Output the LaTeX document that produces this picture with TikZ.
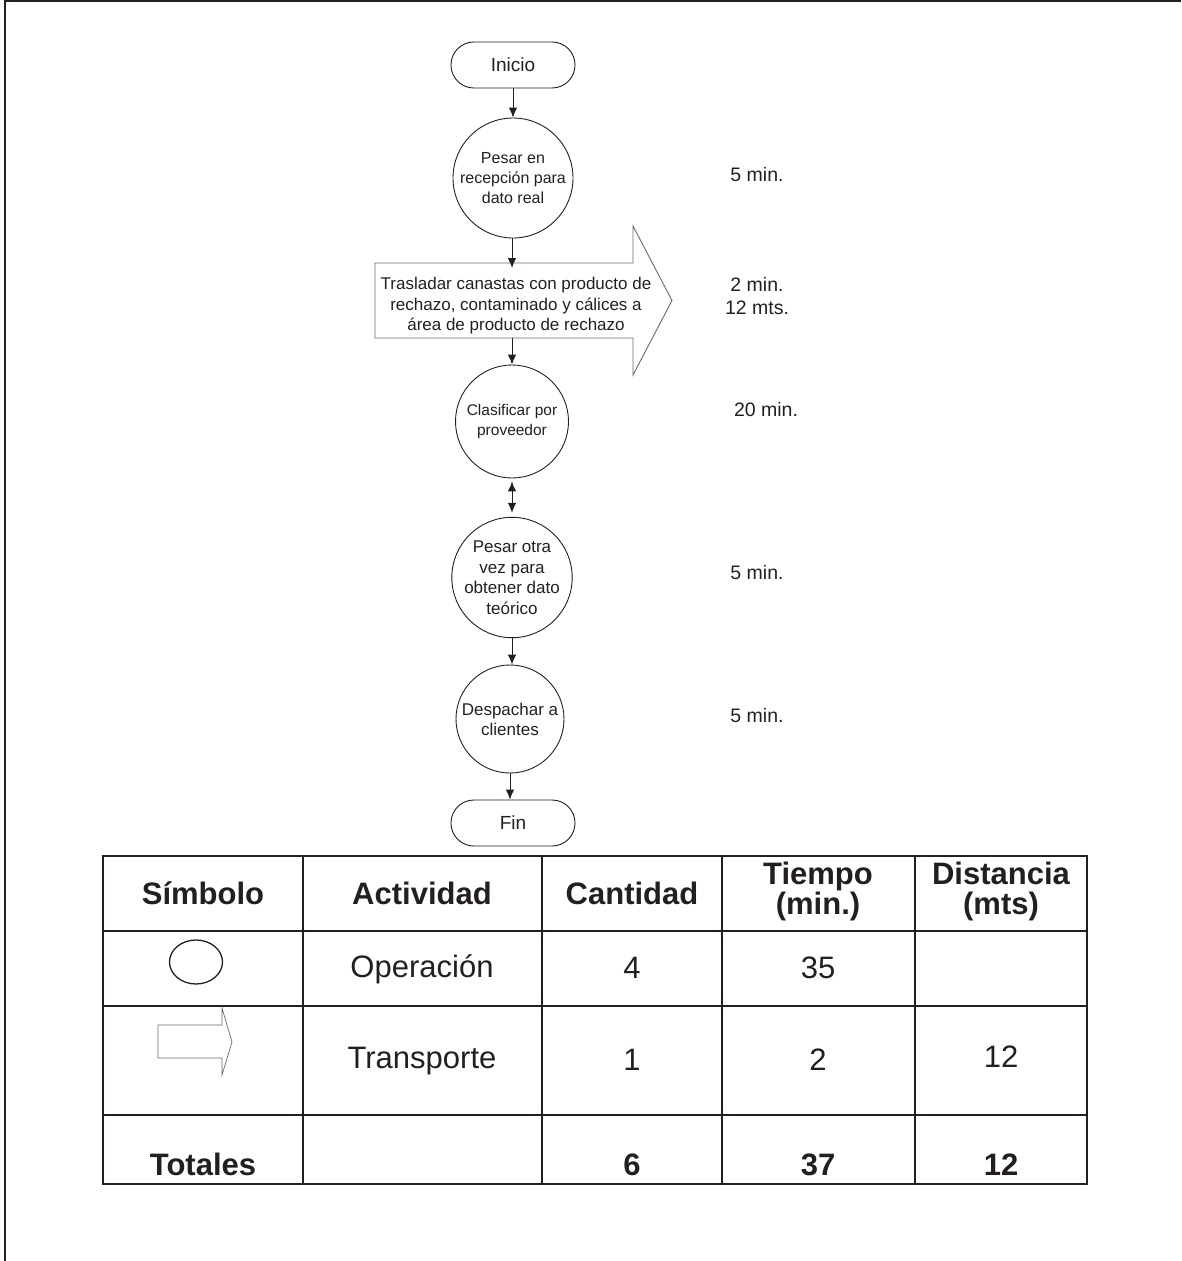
\documentclass[tikz,border=0pt]{standalone}
\usepackage{fontspec}
\setmainfont{Liberation Sans}
\usetikzlibrary{arrows.meta}
\definecolor{ink}{RGB}{35,31,32}
\definecolor{outl}{RGB}{105,105,105}

\begin{document}
\begin{tikzpicture}[x=1pt,y=-1pt,
  every node/.style={text=ink},
  term/.style={draw=ink, line width=0.9pt, rounded corners=22.9pt,
    minimum width=124pt, minimum height=46pt, inner sep=0pt,
    font=\fontsize{19}{22}\selectfont},
  op/.style={circle, draw=ink, line width=0.9pt, inner sep=0pt, align=center},
  link/.style={draw=ink, line width=1pt, -{Latex[length=10pt,width=8.5pt]}},
  duallink/.style={draw=ink, line width=1pt, {Latex[length=10pt,width=8.5pt]}-{Latex[length=10pt,width=8.5pt]}},
  timelabel/.style={align=center, font=\fontsize{19.5}{23}\selectfont},
  grid/.style={draw=ink, line width=2.4pt},
  headtxt/.style={align=center, font=\bfseries\fontsize{31}{30}\selectfont},
  celltxt/.style={align=center, font=\fontsize{31}{30}\selectfont},
  totaltxt/.style={anchor=base, font=\bfseries\fontsize{31}{30}\selectfont},
]
\useasboundingbox (0,0) rectangle (1181,1261);

% page frame
\draw[draw=ink, line width=2pt] (5,1261) -- (5,1) -- (1181,1);

% flow chart
\node[term] (inicio) at (513,65) {Inicio};
\node[op, minimum size=120pt, font=\fontsize{16}{20}\selectfont] (c1) at (513,178)
  {Pesar en\\recepción para\\dato real};

% transport arrow
\draw[draw=outl, line width=0.9pt] (375,263) -- (633,263) -- (633,226) -- (672,300.5)
  -- (633,375) -- (633,338) -- (375,338) -- cycle;
\node[align=center, font=\fontsize{17}{20.5}\selectfont] (tr) at (516,306)
  {Trasladar canastas con producto de\\rechazo, contaminado y cálices a\\área de producto de rechazo};
\coordinate (trtop) at (512,263);
\coordinate (trbot) at (512,338);

\node[op, minimum size=113pt, font=\fontsize{15.5}{20}\selectfont] (c2) at (512,421.5)
  {Clasificar por\\proveedor};
\node[op, minimum size=119pt, font=\fontsize{17}{20.5}\selectfont] (c3) at (512,577.5)
  {Pesar otra\\vez para\\obtener dato\\teórico};
\node[op, minimum size=108pt, font=\fontsize{17}{20}\selectfont] (c4) at (510,719)
  {Despachar a\\clientes};
\node[term] (fin) at (513,823) {Fin};

% connectors
\draw[link] (inicio.south -| c1.north) -- (c1.north);
\draw[link, shorten >=-5pt] (c1.south -| trtop) -- (trtop);
\draw[link] (trbot) -- (trbot |- c2.north);
\draw[duallink, shorten <=3pt, shorten >=4pt] (c2.south) -- (c3.north);
\draw[link] (c3.south) -- (c3.south |- c4.north);
\draw[link] (c4.south) -- (c4.south |- fin.north);

% times and distances
\node[timelabel] (t1) at (757,175) {5 min.};
\node[timelabel] (t2) at (757,296) {2 min.\\12 mts.};
\node[timelabel] (t3) at (766,410) {20 min.};
\node[timelabel] (t4) at (757,573) {5 min.};
\node[timelabel] (t5) at (757,716) {5 min.};

% summary table
\draw[grid] (103,856) rectangle (1087,1184);
\foreach \yy in {931,1006,1115} \draw[grid] (103,\yy) -- (1087,\yy);
\foreach \xx in {303,542,722,915} \draw[grid] (\xx,856) -- (\xx,1184);

\node[headtxt] (h1) at (203,893) {Símbolo};
\node[headtxt] (h2) at (422,893) {Actividad};
\node[headtxt] (h3) at (632,893) {Cantidad};
\node[headtxt] (h4) at (818,891) {Tiempo\\(min.)};
\node[headtxt] (h5) at (1001,891) {Distancia\\(mts)};

\draw[draw=ink, line width=1.3pt] (196,962) ellipse [x radius=26.5, y radius=22];
\node[celltxt] (r1a) at (422,969) {Operación};
\node[celltxt] (r1b) at (632,968) {4};
\node[celltxt] (r1c) at (818,968) {35};

\draw[draw=outl, line width=0.7pt] (158,1025) -- (222,1025) -- (222,1008) -- (232,1042)
  -- (222,1075) -- (222,1058) -- (158,1058) -- cycle;
\node[celltxt] (r2a) at (422,1061) {Transporte};
\node[celltxt] (r2b) at (632,1060) {1};
\node[celltxt] (r2c) at (818,1060) {2};
\node[celltxt] (r2d) at (1001,1057) {12};

\node[totaltxt] (tt1) at (203,1175) {Totales};
\node[totaltxt] (tt2) at (632,1175) {6};
\node[totaltxt] (tt3) at (818,1175) {37};
\node[totaltxt] (tt4) at (1001,1175) {12};
\end{tikzpicture}
\end{document}
